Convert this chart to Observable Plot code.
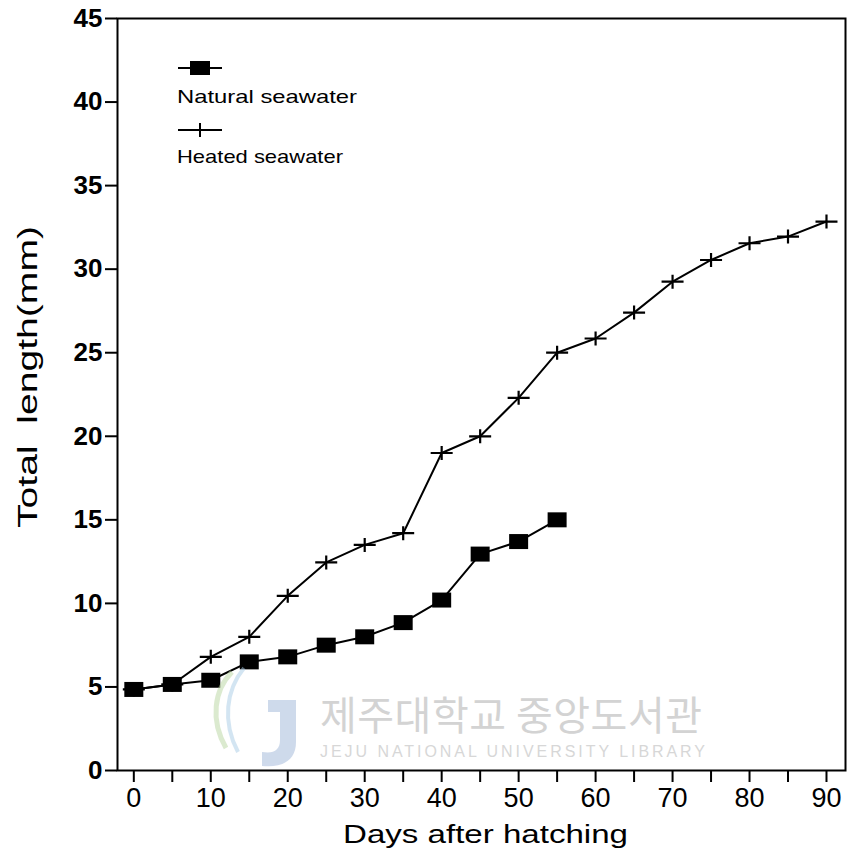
<!DOCTYPE html>
<html>
<head>
<meta charset="utf-8">
<script src="https://cdn.jsdelivr.net/npm/d3@7"></script>
<script src="https://cdn.jsdelivr.net/npm/@observablehq/plot@0.6"></script>
<style>
  html, body { margin: 0; padding: 0; background: #fff; }
  #wrap { position: relative; width: 849px; height: 859px; font-family: "Liberation Sans", Arial, sans-serif; }
  .overlay { position: absolute; left: 0; top: 0; pointer-events: none; }
</style>
</head>
<body>
<div id="wrap"></div>
<script>
// Days after hatching and mean total length (mm) for each rearing condition
const days = [0, 5, 10, 15, 20, 25, 30, 35, 40, 45, 50, 55, 60, 65, 70, 75, 80, 85, 90];
const naturalLength = [4.85, 5.15, 5.4, 6.5, 6.8, 7.5, 8.0, 8.85, 10.2, 12.95, 13.7, 15.0];
const heatedLength = [4.85, 5.15, 6.8, 8.0, 10.45, 12.45, 13.5, 14.2, 19.0, 20.0, 22.3, 25.0, 25.85, 27.4, 29.25, 30.55, 31.55, 31.95, 32.85];
const seriesNames = ["Natural seawater", "Heated seawater"];
const xTicks = [0, 5, 10, 15, 20, 25, 30, 35, 40, 45, 50, 55, 60, 65, 70, 75, 80, 85, 90];
const yTicks = [0, 5, 10, 15, 20, 25, 30, 35, 40, 45];
const xTitle = "Days after hatching";
const yTitle = "Total  length(mm)";

const natural = naturalLength.map((v, i) => ({day: days[i], length: v}));
const heated = heatedLength.map((v, i) => ({day: days[i], length: v}));

// Filled rectangle and open cross symbols
const squareSymbol = {draw(ctx) { ctx.rect(-9.5, -7.5, 19, 15); }};
const plusSymbol = {draw(ctx) { ctx.moveTo(-11, 0); ctx.lineTo(11, 0); ctx.moveTo(0, -7); ctx.lineTo(0, 7); }};

const chart = Plot.plot({
  width: 849,
  height: 859,
  marginLeft: 117,
  marginRight: 4,
  marginTop: 18,
  marginBottom: 89,
  style: {fontFamily: "'Liberation Sans', Arial, sans-serif", fontSize: "27px", background: "#fff", color: "#000", overflow: "visible"},
  x: {domain: [-2.12, 92.47]},
  y: {domain: [0, 45]},
  marks: [
    Plot.frame({stroke: "#000", strokeWidth: 2}),
    Plot.axisX({ticks: xTicks, tickSize: 12, tickPadding: 5, strokeWidth: 2,
      tickFormat: d => d % 10 === 0 ? d : "", label: null}),
    Plot.axisY({ticks: yTicks, tickSize: 12, tickPadding: 3, strokeWidth: 2, label: null,
      fontWeight: "bold", fontSize: 26}),
    Plot.line(heated, {x: "day", y: "length", stroke: "#000", strokeWidth: 2}),
    Plot.line(natural, {x: "day", y: "length", stroke: "#000", strokeWidth: 2}),
    Plot.dot(heated, {x: "day", y: "length", symbol: plusSymbol, stroke: "#000", strokeWidth: 2.2, fill: "none", r: 5}),
    Plot.dot(natural, {x: "day", y: "length", symbol: squareSymbol, fill: "#000", stroke: "none", r: 5})
  ]
});

const wrap = document.getElementById("wrap");
wrap.appendChild(chart);

// Axis titles, legend and library watermark, drawn over the chart
const over = d3.create("svg").attr("class", "overlay").attr("width", 849).attr("height", 859)
  .style("font-family", "'Liberation Sans', Arial, sans-serif");

// The titles are set in a wide face: stretch them to their printed lengths
over.append("text").attr("x", 343).attr("y", 843).attr("font-size", 26)
  .attr("textLength", 285).attr("lengthAdjust", "spacingAndGlyphs").text(xTitle);
over.append("text").attr("transform", "translate(37,528) rotate(-90)").attr("font-size", 27)
  .style("white-space", "pre")
  .attr("textLength", 302).attr("lengthAdjust", "spacingAndGlyphs").text(yTitle);

const legendRows = [
  {name: seriesNames[0], lineY: 68, textY: 103, width: 180},
  {name: seriesNames[1], lineY: 130, textY: 163, width: 166}
];
legendRows.forEach((row, i) => {
  over.append("line").attr("x1", 178).attr("x2", 222).attr("y1", row.lineY).attr("y2", row.lineY)
    .attr("stroke", "#000").attr("stroke-width", 2);
  if (i === 0) {
    over.append("rect").attr("x", 190).attr("y", row.lineY - 7).attr("width", 20).attr("height", 14).attr("fill", "#000");
  } else {
    over.append("line").attr("x1", 200).attr("x2", 200).attr("y1", row.lineY - 7).attr("y2", row.lineY + 7)
      .attr("stroke", "#000").attr("stroke-width", 2);
  }
  over.append("text").attr("x", 177).attr("y", row.textY).attr("font-size", 19)
    .attr("textLength", row.width).attr("lengthAdjust", "spacingAndGlyphs").text(row.name);
});

const wm = over.append("g").attr("opacity", 0.5);
wm.append("path").attr("d", "M268 700 L296 700 L296 742 C296 762 280 768 262 766 L262 752 C274 754 280 750 280 740 L280 712 L268 712 Z")
  .attr("fill", "#9fb6d9");
wm.append("path").attr("d", "M232 672 C214 690 210 720 226 748").attr("fill", "none").attr("stroke", "#b9d6a0").attr("stroke-width", 5);
wm.append("path").attr("d", "M244 668 C226 690 222 722 238 752").attr("fill", "none").attr("stroke", "#a9cce6").attr("stroke-width", 4);
wm.append("text").attr("x", 320).attr("y", 730).attr("font-size", 40).attr("fill", "#a8a8a8")
  .attr("font-family", "'Noto Sans CJK KR', sans-serif")
  .attr("textLength", 382).attr("lengthAdjust", "spacing").text("제주대학교 중앙도서관");
wm.append("text").attr("x", 320).attr("y", 757).attr("font-size", 16).attr("fill", "#b0b0b0")
  .attr("textLength", 385).attr("lengthAdjust", "spacing").text("JEJU NATIONAL UNIVERSITY  LIBRARY");

wrap.appendChild(over.node());
</script>
</body>
</html>
